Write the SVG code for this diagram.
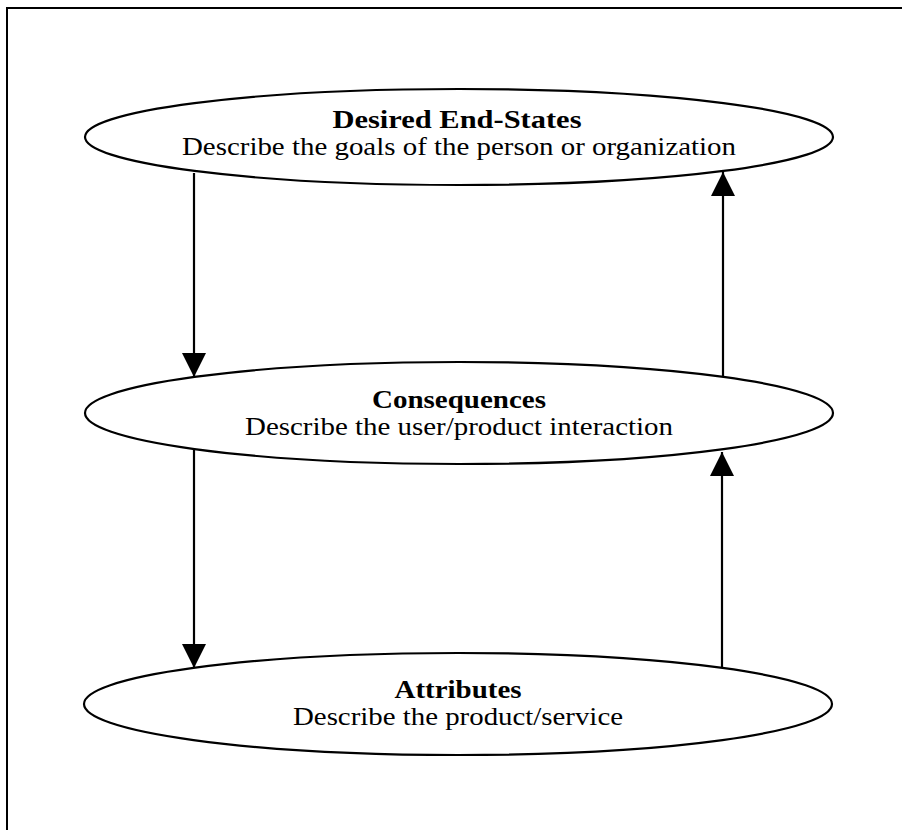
<svg xmlns="http://www.w3.org/2000/svg" width="902" height="830" viewBox="0 0 902 830">
  <style>
    .frame { fill: none; stroke: #000; stroke-width: 2; }
    .node ellipse { fill: #fff; stroke: #000; stroke-width: 2.2; }
    .title { font-family: "Liberation Serif", "Times New Roman", serif; font-size: 24.5px; font-weight: bold; text-anchor: middle; fill: #000; }
    .desc { font-family: "Liberation Serif", "Times New Roman", serif; font-size: 24.5px; text-anchor: middle; fill: #000; }
    .edge { fill: none; stroke: #000; stroke-width: 2.2; }
  </style>
  <defs>
    <marker id="arrowhead" viewBox="0 0 24 24" refX="24" refY="12" markerWidth="24" markerHeight="24" markerUnits="userSpaceOnUse" orient="auto">
      <path d="M0,0 L24,12 L0,24 Z" fill="#000"/>
    </marker>
  </defs>

  <rect width="902" height="830" fill="#fff"/>
  <!-- outer frame, open at right and bottom -->
  <rect class="frame" x="7" y="8" width="910" height="840"/>

  <g id="desired-end-states" class="node">
    <ellipse cx="459" cy="137" rx="374" ry="48"/>
    <text class="title" x="457" y="127.5" textLength="249" lengthAdjust="spacingAndGlyphs">Desired End-States</text>
    <text class="desc" x="459" y="154.5" textLength="554" lengthAdjust="spacingAndGlyphs">Describe the goals of the person or organization</text>
  </g>

  <g id="consequences" class="node">
    <ellipse cx="459" cy="413" rx="374" ry="51"/>
    <text class="title" x="459" y="408" textLength="174" lengthAdjust="spacingAndGlyphs">Consequences</text>
    <text class="desc" x="459" y="435" textLength="428" lengthAdjust="spacingAndGlyphs">Describe the user/product interaction</text>
  </g>

  <g id="attributes" class="node">
    <ellipse cx="458" cy="704" rx="374" ry="51"/>
    <text class="title" x="458" y="698" textLength="127" lengthAdjust="spacingAndGlyphs">Attributes</text>
    <text class="desc" x="458" y="725" textLength="330" lengthAdjust="spacingAndGlyphs">Describe the product/service</text>
  </g>

  <g id="connectors">
    <line class="edge" x1="194" y1="173" x2="194" y2="377" marker-end="url(#arrowhead)"/>
    <line class="edge" x1="723" y1="377" x2="723" y2="172" marker-end="url(#arrowhead)"/>
    <line class="edge" x1="194" y1="450" x2="194" y2="668" marker-end="url(#arrowhead)"/>
    <line class="edge" x1="722" y1="668" x2="722" y2="452" marker-end="url(#arrowhead)"/>
  </g>
</svg>
